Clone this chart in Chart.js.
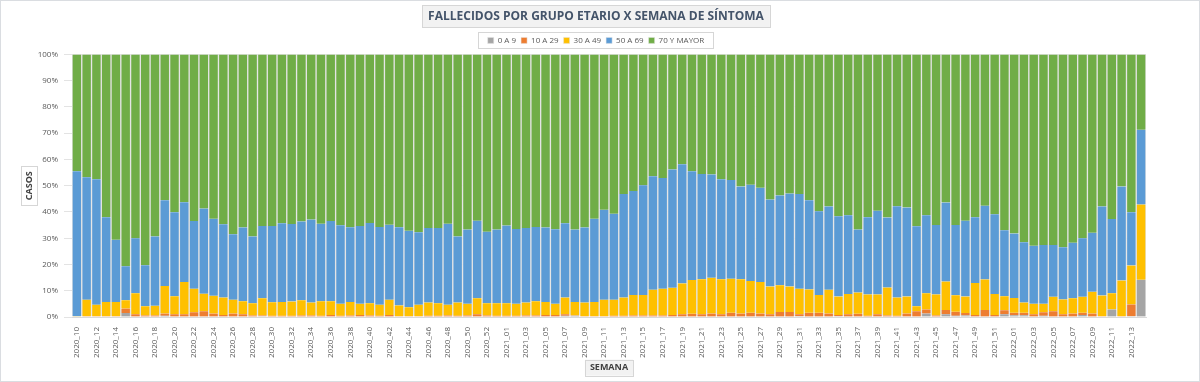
<!DOCTYPE html>
<html>
<head>
<meta charset="utf-8">
<script src="https://cdn.jsdelivr.net/npm/chart.js@4"></script>
<style>
  html, body { margin: 0; padding: 0; background: #fff; }
  #wrap { width: 1198px; height: 380px; border: 1px solid #dadde1; }
</style>
</head>
<body>
<div id="wrap"><canvas id="fallecidosChart" width="1198" height="380"></canvas></div>
<script>
const semanas = [
  '2020_10','2020_11','2020_12','2020_13','2020_14','2020_15','2020_16','2020_17','2020_18','2020_19',
  '2020_20','2020_21','2020_22','2020_23','2020_24','2020_25','2020_26','2020_27','2020_28','2020_29',
  '2020_30','2020_31','2020_32','2020_33','2020_34','2020_35','2020_36','2020_37','2020_38','2020_39',
  '2020_40','2020_41','2020_42','2020_43','2020_44','2020_45','2020_46','2020_47','2020_48','2020_49',
  '2020_50','2020_51','2020_52','2020_53','2021_01','2021_02','2021_03','2021_04','2021_05','2021_06',
  '2021_07','2021_08','2021_09','2021_10','2021_11','2021_12','2021_13','2021_14','2021_15','2021_16',
  '2021_17','2021_18','2021_19','2021_20','2021_21','2021_22','2021_23','2021_24','2021_25','2021_26',
  '2021_27','2021_28','2021_29','2021_30','2021_31','2021_32','2021_33','2021_34','2021_35','2021_36',
  '2021_37','2021_38','2021_39','2021_40','2021_41','2021_42','2021_43','2021_44','2021_45','2021_46',
  '2021_47','2021_48','2021_49','2021_50','2021_51','2021_52','2022_01','2022_02','2022_03','2022_04',
  '2022_05','2022_06','2022_07','2022_08','2022_09','2022_10','2022_11','2022_12','2022_13','2022_14'
];

// porcentaje de fallecidos por grupo etario, por semana
const edad0a9 = [
  0,0,0,0,0,1.5,0,0,0,0.5,
  0,0,0,0,0,0,0,0,0,0.3,
  0,0,0,0,0,0,0,0,0,0,
  0,0,0,0,0,0,0,0,0,0,
  0,0,0,0,0,0,0,0,0,0,
  0.5,0.5,0,0,0,0,0,0,0,0,
  0,0,0,0,0,0,0,0,0,0,
  0,0,0,0,0.3,0,0,0,0.3,0,
  0,0,0,0,0,0,0,1.3,0,1.0,
  0.5,0.6,0,0,0,1.0,0.7,0.7,0,0.5,
  0,0,0,0.8,0,0,2.9,0,0.3,14.2
];
const edad10a29 = [
  0,0.3,0.3,0.3,0.3,1.7,1.0,0.6,0.6,0.8,
  1.0,1.0,1.8,2.2,1.3,0.8,1.3,1.0,0.6,0.3,
  0.5,0.5,0.5,0.6,0.6,0.5,0.8,0.5,0.6,0.8,
  0.6,0.5,0.8,0.3,0.3,0.3,0.5,0.5,0.6,0.5,
  0.6,1.0,0.6,0.5,0.5,0.5,0.6,0.6,0.8,0.8,
  0.5,0.1,0.3,0.3,0.3,0.5,0.5,0.6,0.6,0.6,
  0.6,0.8,1.0,1.2,1.0,1.3,1.0,1.6,1.3,1.6,
  1.3,1.0,1.9,1.9,0.7,1.6,1.6,1.3,0.5,1.0,
  1.2,0.5,1.0,0.6,0.5,1.3,2.2,1.6,0.6,1.7,
  1.5,0.9,0.8,2.7,0.8,1.6,0.9,0.9,1.0,1.3,
  2.2,1.0,1.3,0.8,1.3,0.3,0,0.3,4.5,0
];
const edad30a49 = [
  0.3,6.3,4.4,5.4,5.4,3.2,8.0,3.5,3.7,10.5,
  6.9,12.3,9.0,6.7,6.8,6.6,5.3,5.0,4.6,6.5,
  5.1,5.2,5.4,5.8,4.9,5.5,5.2,4.5,5.1,4.2,
  4.6,4.2,5.8,4.1,3.4,4.4,5.0,4.7,4.1,5.0,
  4.4,6.1,4.6,4.7,4.7,4.5,4.9,5.4,4.9,4.2,
  6.4,5.1,5.2,5.4,6.3,6.1,6.9,7.8,7.8,9.8,
  10.2,10.3,11.8,12.9,13.4,13.6,13.4,13.0,13.1,12.1,
  12.0,10.6,10.2,9.7,9.8,8.9,6.8,9.1,7.0,7.8,
  8.1,8.1,7.6,10.6,6.9,6.5,1.9,6.1,8.0,10.8,
  6.3,6.3,12.1,11.6,8.0,5.3,5.6,3.9,4.0,3.2,
  5.5,5.7,5.8,6.1,8.3,7.9,6.1,13.6,14.8,28.6
];
const edad50a69 = [
  55.2,46.6,47.8,32.3,23.7,12.9,21.0,15.6,26.4,32.7,
  32.0,30.4,25.8,32.4,29.3,27.9,24.9,28.1,25.5,27.6,
  29.1,30.0,29.5,30.0,31.6,29.5,30.6,29.9,28.5,29.7,
  30.6,29.6,28.5,29.8,29.1,27.6,28.4,28.7,30.8,25.2,
  28.3,29.6,27.3,28.1,29.6,28.5,28.4,28.3,28.4,28.4,
  28.3,27.6,28.6,31.7,34.2,32.7,39.4,39.6,41.8,43.2,
  42.1,45.1,45.4,41.4,40.1,39.4,38.1,37.6,35.3,36.7,
  35.9,33.1,34.2,35.4,36.0,34.0,31.9,31.7,30.6,29.9,
  24.0,29.4,31.9,26.7,34.8,33.9,30.5,29.7,26.4,30.1,
  26.7,28.9,25.1,28.1,30.3,25.1,24.6,23.0,22.1,22.4,
  19.7,19.9,21.2,22.3,22.5,33.9,28.3,35.8,20.3,28.5
];
const edad70mas = [
  44.5,46.8,47.5,62.0,70.6,80.7,70.0,80.3,69.3,55.5,
  60.1,56.3,63.4,58.7,62.6,64.7,68.5,65.9,69.3,65.3,
  65.3,64.3,64.6,63.6,62.9,64.5,63.4,65.1,65.8,65.3,
  64.2,65.7,64.9,65.8,67.2,67.7,66.1,66.1,64.5,69.3,
  66.7,63.3,67.5,66.7,65.2,66.5,66.1,65.7,65.9,66.6,
  64.3,66.7,65.9,62.6,59.2,60.7,53.2,52.0,49.8,46.4,
  47.1,43.8,41.8,44.5,45.5,45.7,47.5,47.8,50.3,49.6,
  50.8,55.3,53.7,53.0,53.2,55.5,59.7,57.9,61.6,61.3,
  66.7,62.0,59.5,62.1,57.8,58.3,65.4,61.3,65.0,56.4,
  65.0,63.3,62.0,57.6,60.9,67.0,68.2,71.5,72.9,72.6,
  72.6,73.4,71.7,70.0,67.9,57.9,62.7,50.3,60.1,28.7
];

const titulo = 'FALLECIDOS POR GRUPO ETARIO X SEMANA DE SÍNTOMA';
const fuente = "'Open Sans', 'Liberation Sans', sans-serif";

function serie(label, data, color) {
  return {
    label: label,
    data: data,
    backgroundColor: color,
    borderColor: '#e4e4e4',
    borderWidth: { left: 1, right: 1, top: 0, bottom: 0 },
    borderSkipped: false,
    categoryPercentage: 1,
    barPercentage: 1
  };
}

function caja(ctx, x, y, w, h, fill) {
  ctx.fillStyle = fill;
  ctx.fillRect(x, y, w, h);
  ctx.strokeStyle = '#d6d6d6';
  ctx.lineWidth = 1;
  ctx.strokeRect(Math.round(x) + 0.5, Math.round(y) + 0.5, Math.round(w), Math.round(h));
}

// dibuja los recuadros de titulo, leyenda y titulos de ejes
const recuadros = {
  id: 'recuadros',
  beforeDraw(chart) {
    const ctx = chart.ctx;
    ctx.save();

    const t = chart.titleBlock;
    const tOpts = chart.options.plugins.title;
    const tFont = Chart.helpers.toFont(tOpts.font);
    ctx.font = tFont.string;
    const tw = ctx.measureText(titulo).width;
    const tcx = (t.left + t.right) / 2;
    const tcy = t.top + tOpts.padding.top + tFont.lineHeight / 2;
    caja(ctx, tcx - tw / 2 - 6, tcy - 11, tw + 12, 22, '#f2f2f2');

    const hb = chart.legend.legendHitBoxes;
    if (hb && hb.length) {
      let l = Infinity, r = -Infinity, tp = Infinity, b = -Infinity;
      hb.forEach(function (h) {
        l = Math.min(l, h.left); r = Math.max(r, h.left + h.width);
        tp = Math.min(tp, h.top); b = Math.max(b, h.top + h.height);
      });
      caja(ctx, l - 10, tp - 4, r - l + 18, b - tp + 8, '#ffffff');
    }

    const ys = chart.scales.y;
    const yFont = Chart.helpers.toFont(ys.options.title.font);
    ctx.font = yFont.string;
    const yw = ctx.measureText(ys.options.title.text).width;
    const ycx = ys.left + ys.options.title.padding + yFont.lineHeight / 2;
    const ycy = (ys.top + ys.bottom) / 2;
    caja(ctx, ycx - 8, ycy - yw / 2 - 5, 16, yw + 10, '#ffffff');

    const xs = chart.scales.x;
    const xFont = Chart.helpers.toFont(xs.options.title.font);
    ctx.font = xFont.string;
    const xw = ctx.measureText(xs.options.title.text).width;
    const xcx = (xs.left + xs.right) / 2;
    const xcy = xs.bottom - xs.options.title.padding - xFont.lineHeight / 2;
    caja(ctx, xcx - xw / 2 - 5, xcy - 8, xw + 10, 16, '#f2f2f2');

    ctx.restore();
  }
};

const ctx = document.getElementById('fallecidosChart').getContext('2d');
new Chart(ctx, {
  type: 'bar',
  data: {
    labels: semanas,
    datasets: [
      serie('0 A 9', edad0a9, '#a5a5a5'),
      serie('10 A 29', edad10a29, '#ed7d31'),
      serie('30 A 49', edad30a49, '#ffc000'),
      serie('50 A 69', edad50a69, '#5b9bd5'),
      serie('70 Y MAYOR', edad70mas, '#70ad47')
    ]
  },
  plugins: [recuadros],
  options: {
    responsive: false,
    animation: false,
    layout: { padding: { left: 19, right: 27, top: 0, bottom: 0 } },
    plugins: {
      title: {
        display: true,
        text: titulo,
        color: '#44546a',
        font: { family: fuente, size: 12, weight: 'bold' },
        padding: { top: 8, bottom: 8 }
      },
      legend: {
        position: 'top',
        labels: {
          color: '#595959',
          font: { family: fuente, size: 8 },
          boxWidth: 6,
          boxHeight: 6,
          padding: 5
        }
      },
      tooltip: { enabled: false }
    },
    scales: {
      x: {
        stacked: true,
        grid: { display: false },
        border: { color: '#d9d9d9' },
        ticks: {
          color: '#595959',
          font: { family: fuente, size: 8 },
          autoSkip: false,
          minRotation: 90,
          maxRotation: 90,
          padding: 2,
          callback: function (v, i) { return i % 2 === 0 ? this.getLabelForValue(v) : ''; }
        },
        title: {
          display: true,
          text: 'SEMANA',
          color: '#404040',
          font: { family: fuente, size: 9, weight: 'bold' },
          padding: 8
        },
        afterFit: function (s) { s.height = 64; }
      },
      y: {
        stacked: true,
        min: 0,
        max: 100,
        grid: { color: '#e3e3e3' },
        border: { display: false },
        ticks: {
          stepSize: 10,
          color: '#595959',
          font: { family: fuente, size: 8 },
          padding: 6,
          callback: function (v) { return v + '%'; }
        },
        title: {
          display: true,
          text: 'CASOS',
          color: '#404040',
          font: { family: fuente, size: 9, weight: 'bold' },
          padding: 4
        },
        afterFit: function (s) { s.width = 52; }
      },
      margen: {
        position: 'right',
        grid: { display: false },
        border: { display: false },
        ticks: { display: false },
        afterFit: function (s) { s.width = 26; }
      }
    }
  }
});
</script>
</body>
</html>
